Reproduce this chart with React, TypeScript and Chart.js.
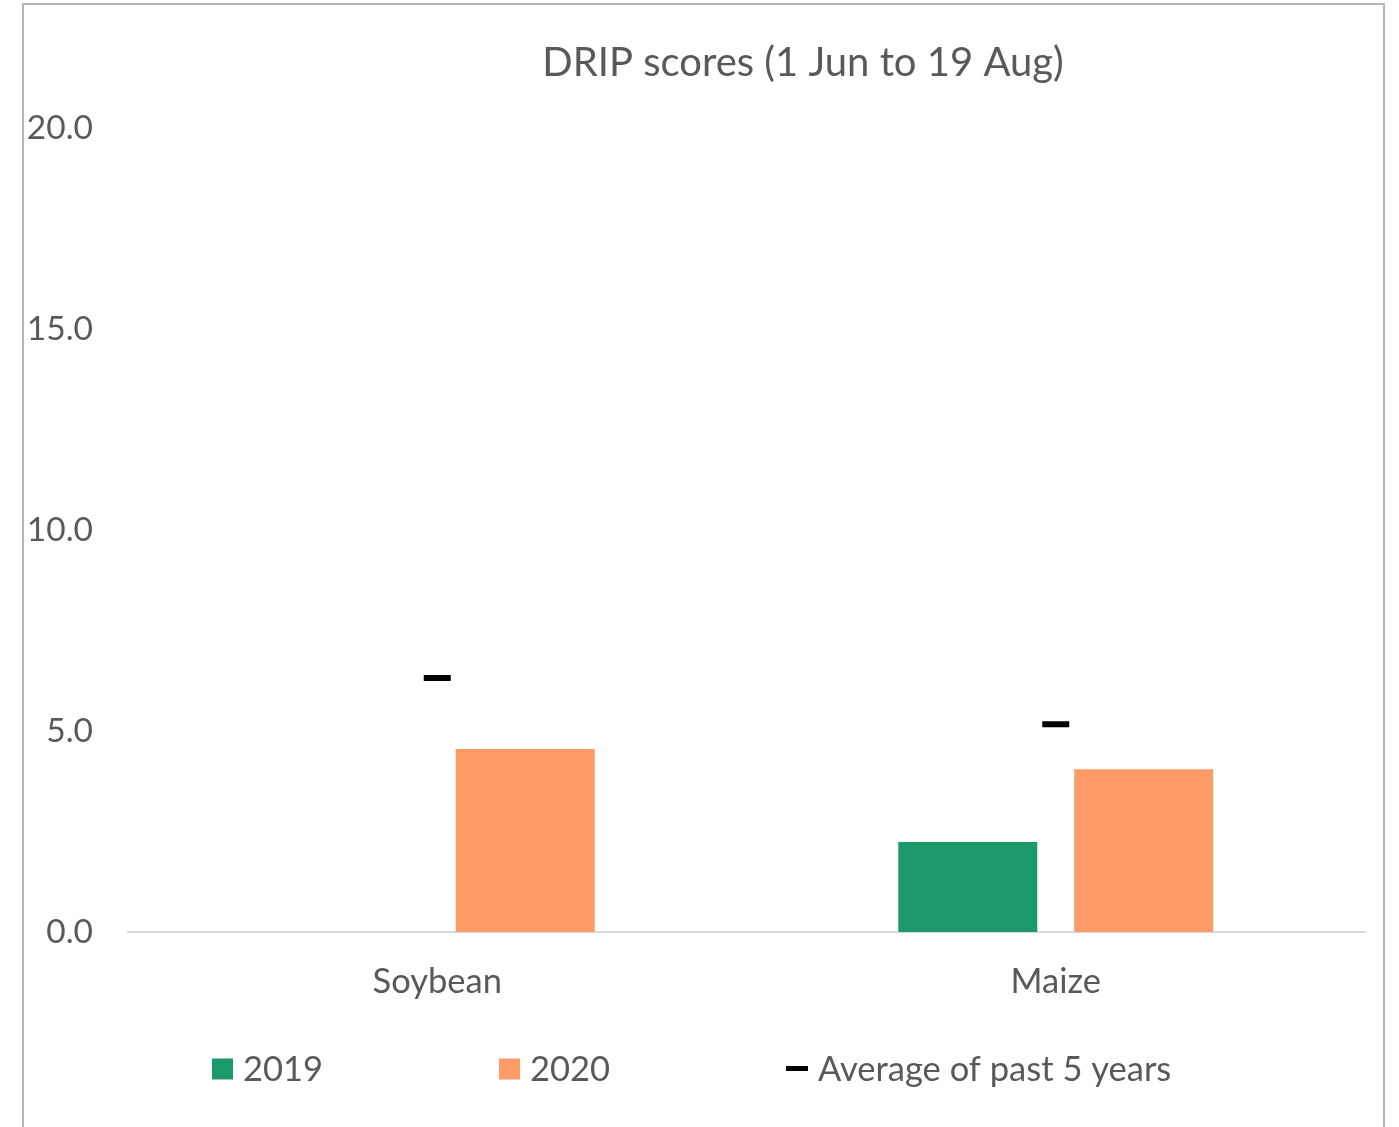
import React, { useEffect, useRef } from "react";
import { Chart, registerables } from "chart.js";

Chart.register(...registerables);

const categories = ["Soybean", "Maize"];
const values2019: (number | null)[] = [null, 2.24];
const values2020: (number | null)[] = [4.55, 4.05];
const average5y: number[] = [6.32, 5.17];
const yTicks = [0, 5, 10, 15, 20];
const titleText = "DRIP scores (1 Jun to 19 Aug)";
const seriesNames = ["2019", "2020", "Average of past 5 years"];

const GREEN = "#1b996a";
const ORANGE = "#ff9b67";
const TEXT = "#595959";
const FONT = "Lato, 'Open Sans', sans-serif";

const decorPlugin = {
  id: "decor",
  afterDraw(chart: any) {
    const ctx = chart.ctx;
    ctx.save();
    // title
    ctx.font = `40px ${FONT}`;
    ctx.fillStyle = TEXT;
    ctx.textBaseline = "middle";
    ctx.textAlign = "center";
    ctx.fillText(titleText, 803, 63);
    // legend
    const y = 1069;
    const starts = [212, 499, 786];
    ctx.font = `34.5px ${FONT}`;
    ctx.textAlign = "left";
    seriesNames.forEach((name, i) => {
      const x = starts[i];
      if (i < 2) {
        ctx.fillStyle = i === 0 ? GREEN : ORANGE;
        ctx.fillRect(x, y - 10.5, 21, 21);
        ctx.fillStyle = TEXT;
        ctx.fillText(name, x + 31, y + 1);
      } else {
        ctx.fillStyle = "#000";
        ctx.fillRect(x, y - 3, 22, 5);
        ctx.fillStyle = TEXT;
        ctx.fillText(name, x + 32, y + 1);
      }
    });
    ctx.restore();
  },
};

export default function App() {
  const ref = useRef<HTMLCanvasElement>(null);
  useEffect(() => {
    if (!ref.current) return;
    const chart = new Chart(ref.current, {
      type: "bar",
      data: {
        labels: categories,
        datasets: [
          {
            type: "line" as any,
            label: seriesNames[2],
            data: average5y,
            showLine: false,
            pointStyle: "line",
            pointRadius: 13.5,
            pointBorderWidth: 6,
            borderColor: "#000",
            backgroundColor: "#000",
          } as any,
          {
            label: seriesNames[0],
            data: values2019,
            backgroundColor: GREEN,
            categoryPercentage: 0.569,
            barPercentage: 0.79,
          },
          {
            label: seriesNames[1],
            data: values2020,
            backgroundColor: ORANGE,
            categoryPercentage: 0.569,
            barPercentage: 0.79,
          },
        ],
      },
      options: {
        animation: false,
        responsive: false,
        layout: { padding: { left: 0, right: 34, top: 128, bottom: 115 } },
        plugins: {
          legend: { display: false },
          tooltip: { enabled: false },
          title: { display: false },
        },
        scales: {
          x: {
            grid: { display: false },
            border: { display: true, color: "#d9d9d9", width: 2 },
            ticks: { color: TEXT, font: { family: FONT, size: 34.5 }, padding: 21 },
            afterFit: (s: any) => {
              s.height = 80;
            },
          },
          y: {
            min: 0,
            max: 20,
            afterBuildTicks: (s: any) => {
              s.ticks = yTicks.map((v) => ({ value: v }));
            },
            grid: { display: false, drawTicks: false },
            border: { display: false },
            ticks: {
              color: TEXT,
              font: { family: FONT, size: 33.5 },
              padding: 35,
              callback: (v: any) => Number(v).toFixed(1),
            },
            afterFit: (s: any) => {
              s.width = 128;
            },
          },
        },
      },
      plugins: [decorPlugin],
    });
    return () => chart.destroy();
  }, []);

  return (
    <div style={{ position: "fixed", left: 0, top: 0, width: 1399, height: 1127, background: "#fff" }}>
      <div
        style={{
          position: "absolute",
          left: 22,
          top: 3,
          width: 1359,
          height: 1200,
          border: "2px solid #b4b4b4",
        }}
      />
      <canvas ref={ref} width={1399} height={1127} style={{ position: "absolute", left: 0, top: 0 }} />
    </div>
  );
}
